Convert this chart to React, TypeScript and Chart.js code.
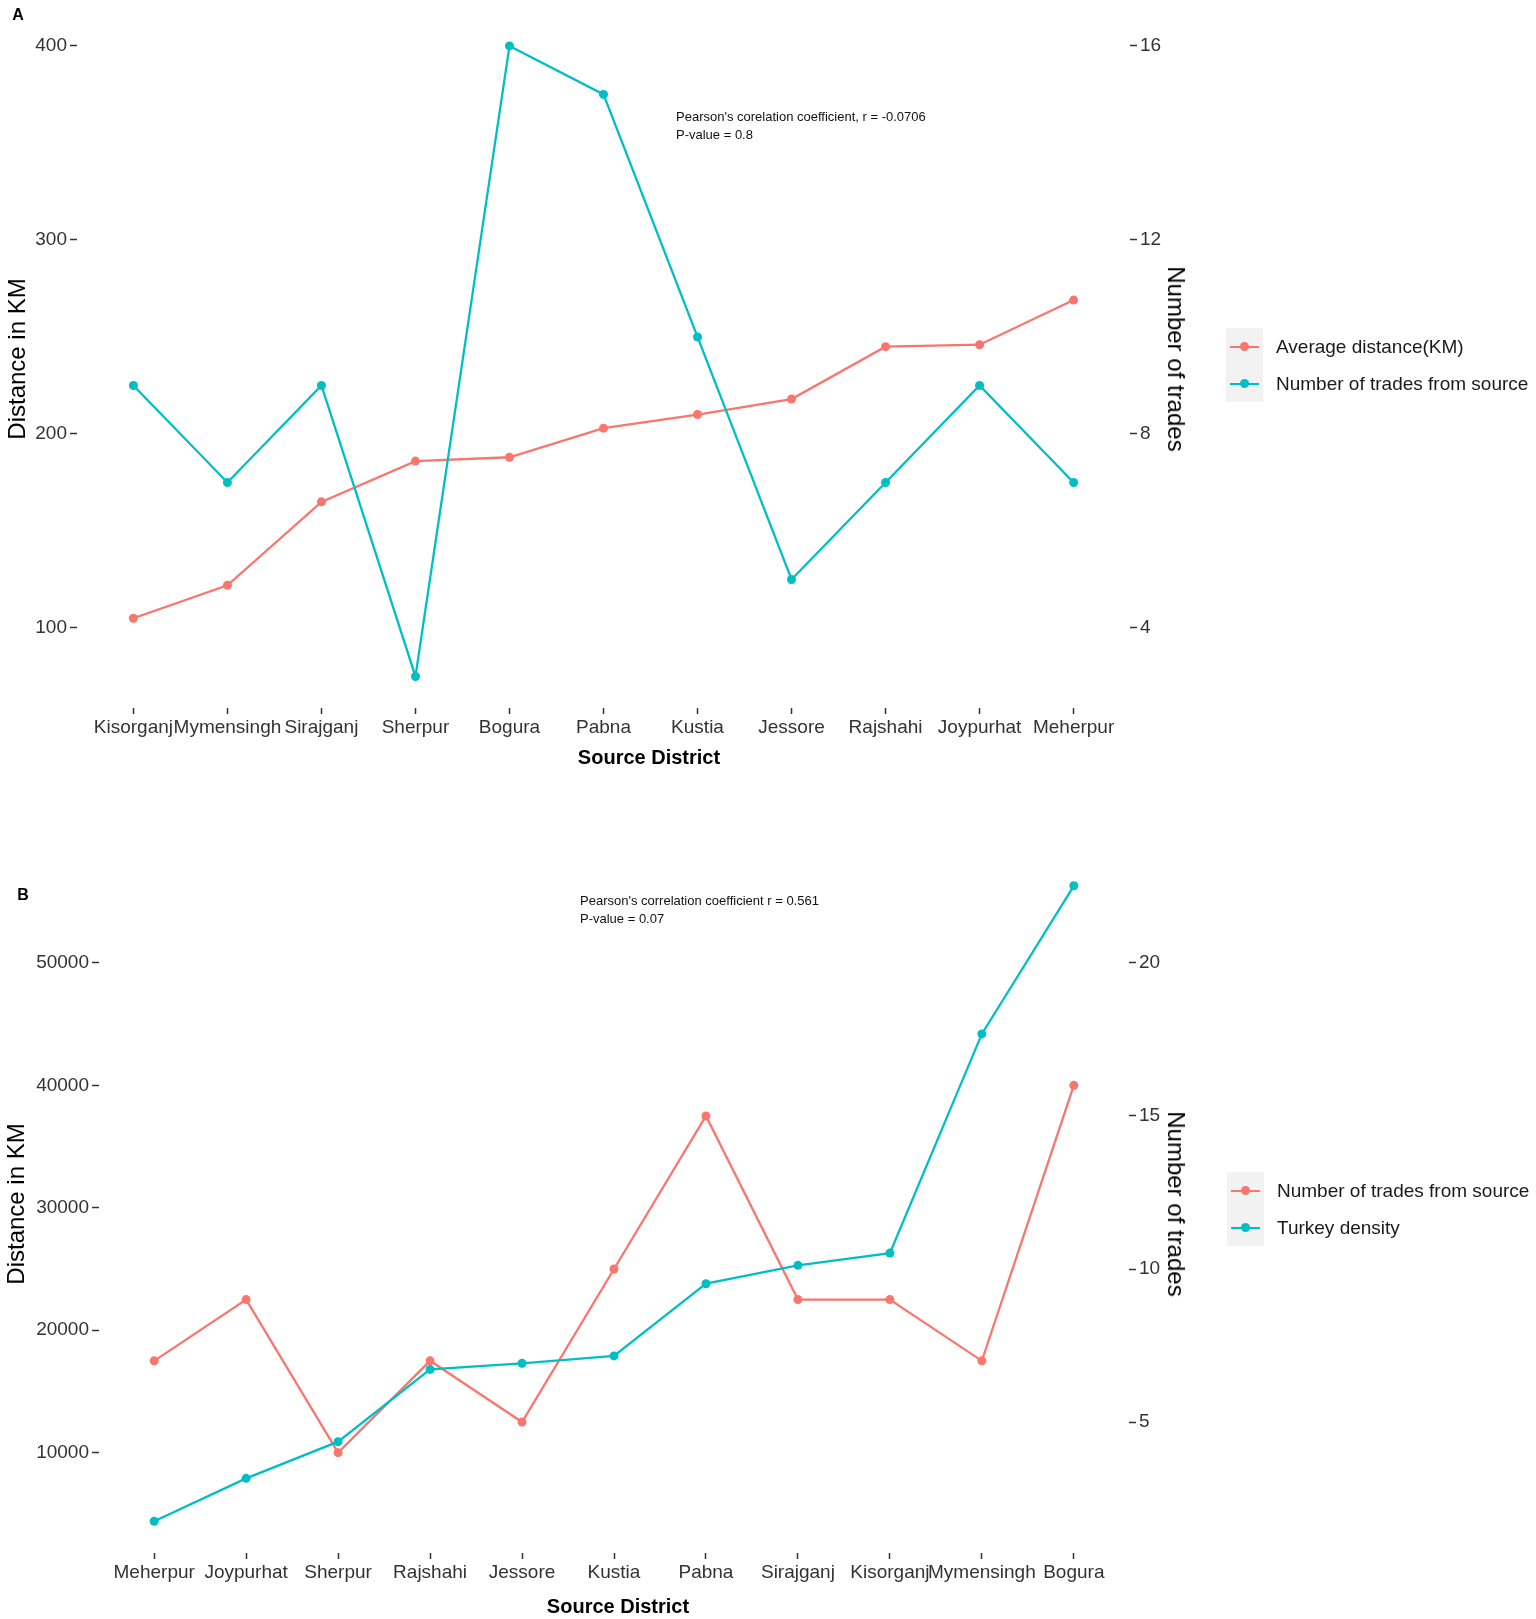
import { useEffect, useRef } from "react";
import { Chart, registerables } from "chart.js";

Chart.register(...registerables);

const RED = "#F8766D";
const CYAN = "#00BFC4";
const FONT = "'Liberation Sans', Arial, sans-serif";

// Panel A
const districtsA = ["Kisorganj", "Mymensingh", "Sirajganj", "Sherpur", "Bogura", "Pabna", "Kustia", "Jessore", "Rajshahi", "Joypurhat", "Meherpur"];
const avgDistanceA = [105, 122, 165, 186, 188, 203, 210, 218, 245, 246, 269];
const tradesA = [9, 7, 9, 3, 16, 15, 10, 5, 7, 9, 7];
const leftTicksA = [100, 200, 300, 400];
const rightTicksA = [4, 8, 12, 16];
const secScaleA = 25;

// Panel B
const districtsB = ["Meherpur", "Joypurhat", "Sherpur", "Rajshahi", "Jessore", "Kustia", "Pabna", "Sirajganj", "Kisorganj", "Mymensingh", "Bogura"];
const tradesB = [7, 9, 4, 7, 5, 10, 15, 9, 9, 7, 16];
const turkeyDensityB = [4400, 7900, 10900, 16800, 17300, 17900, 23800, 25300, 26300, 44200, 56300];
const leftTicksB = [10000, 20000, 30000, 40000, 50000];
const rightTicksB = [5, 10, 15, 20];
const secScaleB = 2500;

interface Series {
  label: string;
  data: number[];
  color: string;
  axis: "y" | "y1";
}

interface PanelProps {
  labels: string[];
  series: Series[];
  secScale: number;
  leftTicks: number[];
  rightTicks: number[];
  width: number;
  height: number;
  padTop: number;
  leftW: number;
  rightW: number;
  xH: number;
}

function DualLineChart(p: PanelProps) {
  const canvasRef = useRef<HTMLCanvasElement>(null);
  const chartRef = useRef<Chart | null>(null);

  useEffect(() => {
    if (!canvasRef.current) return;
    if (chartRef.current) chartRef.current.destroy();

    // ggplot-like 5% expansion over everything on the primary scale
    const all: number[] = [];
    p.series.forEach((s) => s.data.forEach((v) => all.push(s.axis === "y1" ? v * p.secScale : v)));
    const lo = Math.min(...all);
    const hi = Math.max(...all);
    const pad = (hi - lo) * 0.05;
    const yMin = lo - pad;
    const yMax = hi + pad;
    const n = p.labels.length;

    const tickStyle = { color: "#333", font: { family: FONT, size: 19 } };
    const gridStyle = { display: true, drawOnChartArea: false, drawTicks: true, tickLength: 7, tickColor: "#333", tickWidth: 1.5 };
    const plain = (v: any) => String(v);

    chartRef.current = new Chart(canvasRef.current, {
      type: "line",
      data: {
        datasets: p.series.map((s, i) => ({
          label: s.label,
          data: s.data.map((v, k) => ({ x: k, y: v })),
          yAxisID: s.axis,
          borderColor: s.color,
          backgroundColor: s.color,
          pointBackgroundColor: s.color,
          pointBorderWidth: 0,
          pointRadius: 4.5,
          borderWidth: 2.3,
          tension: 0,
          order: p.series.length - i,
        })),
      },
      options: {
        responsive: true,
        maintainAspectRatio: false,
        animation: false,
        layout: { padding: { top: p.padTop, left: 0, right: 0, bottom: 0 } },
        plugins: { legend: { display: false }, tooltip: { enabled: false }, title: { display: false } },
        scales: {
          x: {
            type: "linear",
            min: -0.6,
            max: n - 1 + 0.6,
            afterBuildTicks: (s: any) => {
              s.ticks = p.labels.map((_, i) => ({ value: i }));
            },
            afterFit: (s: any) => {
              s.height = p.xH;
            },
            ticks: { ...tickStyle, padding: 2, autoSkip: false, maxRotation: 0, callback: (v: any) => p.labels[v] ?? "" },
            grid: { ...gridStyle, tickLength: 6 },
            border: { display: false },
          },
          y: {
            type: "linear",
            position: "left",
            min: yMin,
            max: yMax,
            afterBuildTicks: (s: any) => {
              s.ticks = p.leftTicks.map((v) => ({ value: v }));
            },
            afterFit: (s: any) => {
              s.width = p.leftW;
            },
            ticks: { ...tickStyle, padding: 3, callback: plain },
            grid: gridStyle,
            border: { display: false },
          },
          y1: {
            type: "linear",
            position: "right",
            min: yMin / p.secScale,
            max: yMax / p.secScale,
            afterBuildTicks: (s: any) => {
              s.ticks = p.rightTicks.map((v) => ({ value: v }));
            },
            afterFit: (s: any) => {
              s.width = p.rightW;
            },
            ticks: { ...tickStyle, padding: 3, callback: plain },
            grid: gridStyle,
            border: { display: false },
          },
        },
      },
    } as any);

    return () => {
      if (chartRef.current) {
        chartRef.current.destroy();
        chartRef.current = null;
      }
    };
  }, [p]);

  return (
    <div style={{ position: "relative", width: p.width, height: p.height }}>
      <canvas ref={canvasRef} />
    </div>
  );
}

function Legend({ series, left, top }: { series: Series[]; left: number; top: number }) {
  return (
    <div style={{ position: "absolute", left, top, fontFamily: FONT, fontSize: 19, color: "#1a1a1a" }}>
      {series.map((s) => (
        <div key={s.label} style={{ display: "flex", alignItems: "center", height: 37 }}>
          <div style={{ position: "relative", width: 37, height: 37, background: "#F2F2F2" }}>
            <div style={{ position: "absolute", left: 4, right: 4, top: 17.5, height: 2.3, background: s.color }} />
            <div style={{ position: "absolute", left: 14, top: 14, width: 9, height: 9, borderRadius: "50%", background: s.color }} />
          </div>
          <span style={{ marginLeft: 13, whiteSpace: "nowrap" }}>{s.label}</span>
        </div>
      ))}
    </div>
  );
}

const abs = (x: number, y: number, extra: any = {}) => ({
  position: "absolute" as const,
  left: x,
  top: y,
  whiteSpace: "nowrap" as const,
  fontFamily: FONT,
  ...extra,
});

const seriesA: Series[] = [
  { label: "Average distance(KM)", data: avgDistanceA, color: RED, axis: "y" },
  { label: "Number of trades from source", data: tradesA, color: CYAN, axis: "y1" },
];
const seriesB: Series[] = [
  { label: "Number of trades from source", data: tradesB, color: RED, axis: "y1" },
  { label: "Turkey density", data: turkeyDensityB, color: CYAN, axis: "y" },
];

const panelA: PanelProps = {
  labels: districtsA, series: seriesA, secScale: secScaleA, leftTicks: leftTicksA, rightTicks: rightTicksA,
  width: 1536, height: 780, padTop: 10, leftW: 77, rightW: 406, xH: 72,
};
const panelB: PanelProps = {
  labels: districtsB, series: seriesB, secScale: secScaleB, leftTicks: leftTicksB, rightTicks: rightTicksB,
  width: 1536, height: 829, padTop: 64, leftW: 99, rightW: 407, xH: 66,
};

export default function App() {
  useEffect(() => {
    document.body.style.margin = "0";
  }, []);

  const axisTitle = { fontSize: 24, color: "#000" };
  const center = "translate(-50%, -50%)";
  const note = { fontSize: 13, lineHeight: "18px", color: "#111" };

  return (
    <div style={{ position: "relative", width: 1536, height: 1619, background: "#fff", overflow: "hidden" }}>
      <div style={{ position: "absolute", left: 0, top: 0 }}>
        <DualLineChart {...panelA} />
      </div>
      <div style={{ position: "absolute", left: 0, top: 790 }}>
        <DualLineChart {...panelB} />
      </div>

      {/* Panel A text */}
      <div style={abs(18, 15, { transform: center, fontWeight: "bold", fontSize: 16 })}>A</div>
      <div style={abs(17, 359, { ...axisTitle, transform: center + " rotate(-90deg)" })}>Distance in KM</div>
      <div style={abs(1176, 359, { ...axisTitle, transform: center + " rotate(90deg)" })}>Number of trades</div>
      <div style={abs(649, 757, { transform: center, fontWeight: "bold", fontSize: 20 })}>Source District</div>
      <div style={abs(676, 108, note)}>
        Pearson's corelation coefficient, r = -0.0706
        <br />
        P-value = 0.8
      </div>
      <Legend series={seriesA} left={1226} top={328} />

      {/* Panel B text */}
      <div style={abs(23, 895, { transform: center, fontWeight: "bold", fontSize: 16 })}>B</div>
      <div style={abs(16, 1204, { ...axisTitle, transform: center + " rotate(-90deg)" })}>Distance in KM</div>
      <div style={abs(1176, 1204, { ...axisTitle, transform: center + " rotate(90deg)" })}>Number of trades</div>
      <div style={abs(618, 1606, { transform: center, fontWeight: "bold", fontSize: 20 })}>Source District</div>
      <div style={abs(580, 892, note)}>
        Pearson's correlation coefficient r = 0.561
        <br />
        P-value = 0.07
      </div>
      <Legend series={seriesB} left={1227} top={1172} />
    </div>
  );
}
